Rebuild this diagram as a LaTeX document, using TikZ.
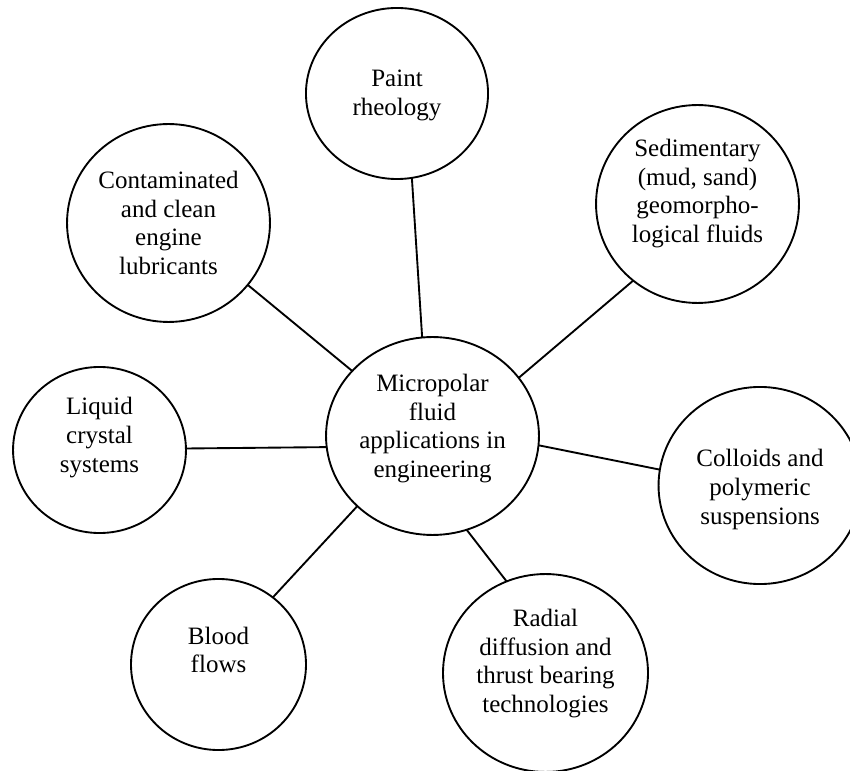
\documentclass[tikz,border=0pt]{standalone}
\usepackage{fontspec}
\setmainfont{Liberation Serif}
\usetikzlibrary{shapes.geometric}
\tikzset{
  bub/.style={draw, ellipse, line width=0.9pt, inner sep=0pt, outer sep=0pt},
  txt/.style={align=center, inner sep=0pt, font=\fontsize{12}{13.8}\selectfont},
  link/.style={line width=0.9pt}
}
\begin{document}
\begin{tikzpicture}[x=0.48pt, y=-0.48pt]
\useasboundingbox (0,0) rectangle (850,771);
% ellipses
\node[bub, minimum width=102.2pt, minimum height=95.0pt] (mid) at (432.5,436) {};
\node[bub, minimum width=87.4pt, minimum height=82.1pt] (paint) at (397,93.5) {};
\node[bub, minimum width=97.4pt, minimum height=95.0pt] (contam) at (168.5,223) {};
\node[bub, minimum width=97.4pt, minimum height=95.0pt] (sed) at (697.5,204) {};
\node[bub, minimum width=83.0pt, minimum height=79.7pt] (liquid) at (99.5,450) {};
\node[bub, minimum width=84.0pt, minimum height=82.1pt] (blood) at (218.5,664.5) {};
\node[bub, minimum width=97.4pt, minimum height=94.6pt] (colloid) at (760,485.5) {};
\node[bub, minimum width=98.4pt, minimum height=95.0pt] (radial) at (545.5,673) {};
% texts
\node[txt] (midT) at ([yshift=3.6pt]mid.center) {Micropolar\\fluid\\applications in\\engineering};
\node[txt] (paintT) at ([yshift=-1pt]paint.center) {Paint\\rheology};
\node[txt] (contamT) at ([yshift=0pt]contam.center) {Contaminated\\and clean\\engine\\lubricants};
\node[txt] (sedT) at ([yshift=5pt]sed.center) {Sedimentary\\(mud, sand)\\geomorpho-\\logical fluids};
\node[txt] (liquidT) at ([yshift=6pt]liquid.center) {Liquid\\crystal\\systems};
\node[txt] (bloodT) at ([yshift=7pt]blood.center) {Blood\\flows};
\node[txt] (colloidT) at ([yshift=-2pt]colloid.center) {Colloids and\\polymeric\\suspensions};
\node[txt] (radialT) at ([yshift=4.5pt]radial.center) {Radial\\diffusion and\\thrust bearing\\technologies};
% connectors
\draw[link] (paint.-80) -- (mid.96);
\draw[link] (contam.-38) -- (mid.141);
\draw[link] (sed.-130.6) -- (mid.34.7);
\draw[link] (liquid.1) -- (mid.186);
\draw[link] (blood.51.6) -- (mid.223.6);
\draw[link] (colloid.171.6) -- (mid.-5);
\draw[link] (radial.113.6) -- (mid.-70.9);
\end{tikzpicture}
\end{document}
